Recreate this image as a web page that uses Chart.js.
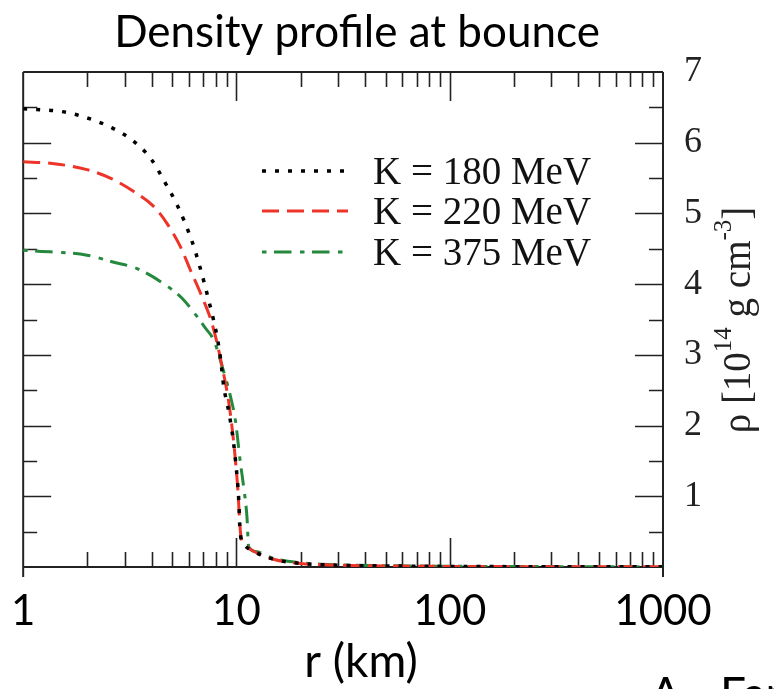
<!DOCTYPE html>
<html>
<head>
<meta charset="utf-8">
<script src="https://cdn.jsdelivr.net/npm/chart.js@4.4.1/dist/chart.umd.min.js"></script>
<style>
  html, body { margin: 0; padding: 0; background: #fff; }
  #wrap { width: 774px; height: 689px; position: relative; }
</style>
</head>
<body>
<div id="wrap"><canvas id="density-chart"></canvas></div>
<script>
// radius (km) and density (10^14 g cm^-3)
const r180 = [1, 1.16, 1.52, 2.0, 2.61, 3.3, 4.0, 4.6, 5.27, 6.15, 6.73, 7.47, 8.11, 8.41, 8.72, 9.2, 9.65, 10.0, 10.25, 10.4, 10.8, 12.1, 14.9, 20, 30, 50, 100, 200, 500, 1000];
const rho180 = [6.48, 6.47, 6.44, 6.35, 6.21, 6.02, 5.76, 5.45, 5.12, 4.63, 4.25, 3.73, 3.26, 2.96, 2.55, 2.20, 1.80, 1.37, 0.95, 0.50, 0.33, 0.22, 0.11, 0.05, 0.025, 0.015, 0.008, 0.005, 0.004, 0.003];

const r220 = [1, 1.34, 1.99, 2.56, 3.3, 4.09, 4.72, 5.46, 6.08, 6.9, 7.67, 8.41, 9.4, 10.1, 10.5, 11.0, 12.1, 14.9, 20, 30, 50, 100, 200, 500, 1000];
const rho220 = [5.73, 5.71, 5.62, 5.50, 5.31, 5.10, 4.86, 4.53, 4.20, 3.82, 3.45, 2.95, 2.13, 1.19, 0.43, 0.31, 0.22, 0.11, 0.05, 0.025, 0.015, 0.008, 0.005, 0.004, 0.003];

const r375 = [1, 1.12, 1.99, 2.66, 3.42, 4.9, 5.56, 6.54, 7.14, 7.82, 8.66, 9.38, 9.9, 10.4, 10.8, 11.2, 11.4, 12.3, 15, 20, 30, 50, 100, 200, 500, 1000];
const rho375 = [4.48, 4.47, 4.41, 4.31, 4.22, 3.94, 3.80, 3.54, 3.38, 3.21, 2.79, 2.41, 2.06, 1.51, 1.14, 0.71, 0.29, 0.22, 0.12, 0.06, 0.03, 0.018, 0.01, 0.006, 0.005, 0.004];

const seriesLabels = ['K = 180 MeV', 'K = 220 MeV', 'K = 375 MeV'];
const xTickLabels = [1, 10, 100, 1000];
const yTickLabels = [1, 2, 3, 4, 5, 6, 7];

const SANS = 'Lato, "Open Sans", sans-serif';
const SERIF = '"Liberation Serif", "DejaVu Serif", serif';

function toPoints(xs, ys) {
  return xs.map((x, i) => ({ x, y: ys[i] }));
}

function isLabelled(list, v) {
  return list.some((t) => Math.abs(t - v) < 1e-6);
}

// box frame with inward ticks on all four sides
const framePlugin = {
  id: 'frame',
  beforeDatasetsDraw(chart) {
    const { ctx, chartArea: a, scales } = chart;
    const x = scales.x, y = scales.y;
    ctx.save();
    ctx.strokeStyle = '#222';
    ctx.lineWidth = 2;
    ctx.beginPath();
    ctx.moveTo(a.left, a.top); ctx.lineTo(a.right, a.top);
    ctx.moveTo(a.left - 1, a.bottom); ctx.lineTo(a.right + 1, a.bottom);
    ctx.moveTo(a.left, a.top); ctx.lineTo(a.left, a.bottom + 10);
    ctx.moveTo(a.right, a.top); ctx.lineTo(a.right, a.bottom + 10);
    ctx.stroke();

    ctx.lineWidth = 1.6;
    ctx.beginPath();
    for (let d = 1; d < 1000; d *= 10) {
      for (let m = 1; m < 10; m++) {
        const v = d * m;
        if (v === 1) continue;
        const px = Math.round(x.getPixelForValue(v)) + 0.5;
        const len = m === 1 ? 29 : 15;
        ctx.moveTo(px, a.bottom); ctx.lineTo(px, a.bottom - len);
        ctx.moveTo(px, a.top); ctx.lineTo(px, a.top + len);
      }
    }
    for (let v = 0.5; v < 7; v += 0.5) {
      const py = Math.round(y.getPixelForValue(v)) + 0.5;
      const len = Number.isInteger(v) ? 28 : 14;
      ctx.moveTo(a.left, py); ctx.lineTo(a.left + len, py);
      ctx.moveTo(a.right, py); ctx.lineTo(a.right - len, py);
    }
    ctx.stroke();
    ctx.restore();
  }
};

// legend inside the plot, plus titles drawn as text
const textPlugin = {
  id: 'texts',
  afterDraw(chart) {
    const { ctx } = chart;
    ctx.save();

    // legend
    const rows = [171, 211, 252];
    chart.data.datasets.forEach((ds, i) => {
      ctx.strokeStyle = ds.borderColor;
      ctx.lineWidth = ds.borderWidth;
      ctx.setLineDash(ds.borderDash);
      ctx.beginPath();
      ctx.moveTo(262, rows[i]);
      ctx.lineTo(348, rows[i]);
      ctx.stroke();
      ctx.setLineDash([]);
      ctx.fillStyle = '#111';
      ctx.font = '39px ' + SERIF;
      ctx.textAlign = 'left';
      ctx.textBaseline = 'alphabetic';
      ctx.fillText(ds.label, 373, rows[i] + 13);
    });

    // chart title and x title
    ctx.fillStyle = '#000';
    ctx.font = '44px ' + SANS;
    ctx.textAlign = 'center';
    ctx.fillText('Density profile at bounce', 357, 47);
    ctx.font = '46px ' + SANS;
    ctx.fillText('r (km)', 361, 677);
    ctx.textAlign = 'left';
    ctx.fillText('A.', 650, 710);
    ctx.fillText('Fan', 720, 710);

    // y title, rotated, with superscripts
    const parts = [
      { t: 'ρ [10', sup: false },
      { t: '14', sup: true },
      { t: ' g cm', sup: false },
      { t: '-3', sup: true },
      { t: ']', sup: false }
    ];
    const mainFont = '39px ' + SERIF;
    const supFont = '25px ' + SERIF;
    let total = 0;
    parts.forEach((p) => {
      ctx.font = p.sup ? supFont : mainFont;
      p.w = ctx.measureText(p.t).width;
      total += p.w;
    });
    ctx.translate(750, 320);
    ctx.rotate(-Math.PI / 2);
    ctx.fillStyle = '#222';
    let cx = -total / 2;
    parts.forEach((p) => {
      ctx.font = p.sup ? supFont : mainFont;
      ctx.fillText(p.t, cx, p.sup ? -19 : 0);
      cx += p.w;
    });
    ctx.restore();
  }
};

const ctx = document.getElementById('density-chart').getContext('2d');
new Chart(ctx, {
  type: 'line',
  data: {
    datasets: [
      {
        label: seriesLabels[0],
        data: toPoints(r180, rho180),
        borderColor: '#000000',
        borderWidth: 3.5,
        borderDash: [4, 9],
        pointRadius: 0,
        fill: false,
        cubicInterpolationMode: 'monotone'
      },
      {
        label: seriesLabels[1],
        data: toPoints(r220, rho220),
        borderColor: '#ee3328',
        borderWidth: 3,
        borderDash: [17, 8],
        pointRadius: 0,
        fill: false,
        cubicInterpolationMode: 'monotone'
      },
      {
        label: seriesLabels[2],
        data: toPoints(r375, rho375),
        borderColor: '#25893d',
        borderWidth: 3,
        borderDash: [4.5, 7.5, 17.5, 8.5],
        pointRadius: 0,
        fill: false,
        cubicInterpolationMode: 'monotone'
      }
    ]
  },
  options: {
    responsive: true,
    maintainAspectRatio: false,
    animation: false,
    layout: { padding: { left: 18, top: 72, right: 0, bottom: 0 } },
    plugins: {
      legend: { display: false },
      title: { display: false },
      tooltip: { enabled: false }
    },
    scales: {
      x: {
        type: 'logarithmic',
        min: 1,
        max: 1000,
        grid: { display: false },
        border: { display: false },
        ticks: {
          autoSkip: false,
          maxRotation: 0,
          padding: 11,
          color: '#000',
          font: { family: SANS, size: 42 },
          callback: (v) => (isLabelled(xTickLabels, v) ? String(v) : '')
        },
        afterFit: (s) => { s.height = 122; }
      },
      y: {
        position: 'right',
        min: 0,
        max: 7,
        grid: { display: false },
        border: { display: false },
        ticks: {
          stepSize: 1,
          padding: 13,
          color: '#222',
          font: { family: SERIF, size: 36 },
          callback: (v) => (isLabelled(yTickLabels, v) ? String(v) : '')
        },
        afterFit: (s) => { s.width = 111; }
      }
    }
  },
  plugins: [framePlugin, textPlugin]
});
</script>
</body>
</html>
